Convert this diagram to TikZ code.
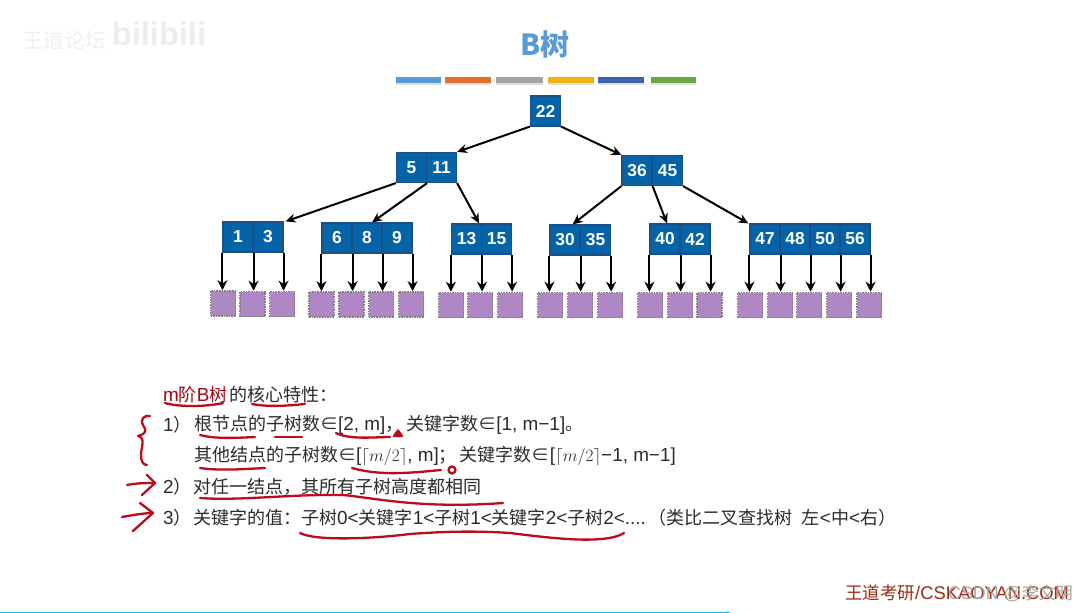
\documentclass[tikz,border=0pt]{standalone}
\usepackage{fontspec}
\setmainfont{Noto Sans CJK SC}
\newfontfamily\latinf[Scale=1.05]{Liberation Sans}
\newcommand{\lt}[1]{{\latinf #1}}
\usetikzlibrary{arrows.meta}
\definecolor{cellblue}{HTML}{0563A8}
\definecolor{celledge}{HTML}{1C4F86}
\definecolor{leafpurple}{HTML}{AE87C4}
\definecolor{inkred}{HTML}{BE0A1C}
\definecolor{bodytext}{HTML}{2B2B2B}
\definecolor{titleblue}{HTML}{5B9BD5}
\definecolor{footred}{HTML}{9E2A10}
\definecolor{bottomline}{HTML}{14B4EE}
\tikzset{
  x=1pt,y=-1pt,
  cellbox/.style={draw=celledge,line width=1.2pt,fill=cellblue,text=white,minimum width=30pt,minimum height=30pt,inner sep=0pt,font=\latinf\bfseries\fontsize{16.5}{17}\selectfont},
  leafbox/.style={draw=gray,densely dotted,line width=1.6pt,fill=leafpurple,minimum width=25pt,minimum height=25pt,inner sep=0pt},
  treeline/.style={-{Stealth[length=10pt,width=9pt]},line width=2pt,black},
  dropline/.style={-{Stealth[length=10pt,width=10pt]},line width=2pt,black},
  body/.style={anchor=west,inner sep=0pt,text=bodytext,font=\fontsize{18}{18}\selectfont},
  ink/.style={draw=inkred,line width=2.3pt,line cap=round,line join=round},
}
\newcommand{\celll}[4]{\node[cellbox] (#1) at (#2,#3) {#4};}
\newcommand{\leafb}[3]{\node[leafbox] (#1) at (#2,#3) {};}
\begin{document}
\begin{tikzpicture}
\useasboundingbox (0,0) rectangle (1090,613);
\fill[white] (0,0) rectangle (1090,613);
% watermark
\node[inner sep=0pt,text=black!6,font=\fontsize{21}{21}\selectfont] (wm) at (65,40) {王道论坛};
\node[inner sep=0pt,text=black!7,font=\latinf\bfseries\fontsize{31}{32}\selectfont] (wmb) at (159,34) {bilibili};
% title
\node[inner sep=0pt,text=titleblue,font=\bfseries\fontsize{29}{29}\selectfont] (title) at (545,44) {B树};
\foreach \a/\b/\c in {396/441/5B9BD5,445/491/E0702C,496/543/A5A5A5,548/594/F0B510,598/644/3F62AE,651/696/6AA745}{
  \definecolor{barc}{HTML}{\c}
  \fill[black!12] (\a,79) rectangle (\b,84.5);
  \fill[barc] (\a,77) rectangle (\b,82.5);
}
% internal nodes
\celll{r}{545.5}{111}{22}
\celll{a1}{411.5}{167.5}{5}\celll{a2}{441.5}{167.5}{11}
\celll{c1}{637}{170.5}{36}\celll{c2}{667.5}{170.5}{45}
\celll{d1}{238}{237}{1}\celll{d2}{268}{237}{3}
\celll{e1}{337}{238}{6}\celll{e2}{367}{238}{8}\celll{e3}{397}{238}{9}
\celll{f1}{466.5}{239}{13}\celll{f2}{496.5}{239}{15}
\celll{g1}{565}{240}{30}\celll{g2}{595.5}{240}{35}
\celll{h1}{665}{239}{40}\celll{h2}{695}{239}{42}
\celll{i1}{765}{239}{47}\celll{i2}{795}{239}{48}\celll{i3}{825}{239}{50}\celll{i4}{855}{239}{56}
% leaves
\leafb{ld1}{223}{303.5}\leafb{ld2}{252.5}{304}\leafb{ld3}{282}{304}
\leafb{le1}{321.5}{304.5}\leafb{le2}{351.5}{304.5}\leafb{le3}{381}{304.5}\leafb{le4}{411}{304.5}
\leafb{lf1}{451}{305}\leafb{lf2}{480}{305}\leafb{lf3}{510}{305}
\leafb{lg1}{550}{305}\leafb{lg2}{580}{305}\leafb{lg3}{610}{305}
\leafb{lh1}{650}{305}\leafb{lh2}{680}{305}\leafb{lh3}{709.5}{305}
\leafb{li1}{750}{305}\leafb{li2}{780}{305}\leafb{li3}{809}{305}\leafb{li4}{839}{305}\leafb{li5}{869}{305}
% edges between internal nodes
\draw[treeline] (r.south west) -- (a2.north east);
\draw[treeline] (r.south east) -- (c1.north west);
\draw[treeline] (a1.south west) -- ([xshift=2pt]d2.north east);
\draw[treeline] (a1.south east) -- ([xshift=5pt]e2.north);
\draw[treeline] (a2.south east) -- ([xshift=-3pt]f1.north east);
\draw[treeline] (c1.south west) -- ([xshift=-8pt]g1.north east);
\draw[treeline] (c1.south east) -- ([xshift=2pt]h1.north);
\draw[treeline] (c2.south east) -- ([xshift=-1pt]i1.north west);
% drops
\foreach \p/\l in {d1.south west/ld1,d1.south east/ld2,d2.south east/ld3,
  e1.south west/le1,e1.south east/le2,e2.south east/le3,e3.south east/le4,
  f1.south west/lf1,f1.south east/lf2,f2.south east/lf3,
  g1.south west/lg1,g1.south east/lg2,g2.south east/lg3,
  h1.south west/lh1,h1.south east/lh2,h2.south east/lh3,
  i1.south west/li1,i1.south east/li2,i2.south east/li3,i3.south east/li4,i4.south east/li5}{
  \draw[dropline] (\p) -- (\p |- \l.north);
}
% text
\node[body,text=inkred!85!black] (t0a) at (163,395) {\lt{m}阶\lt{B}树};
\node[body] (t0b) at (229,395) {的核心特性：};
\node[body] (n1) at (163,424.5) {\lt{1}）};
\node[body] (t1) at (194,424.5) {根节点的子树数∈\lt{[2, m]}，\kern3pt 关键字数∈\lt{[1, m−1]}。};
\node[body] (t2) at (194,456) {其他结点的子树数∈\lt{[}$\lceil m/2\rceil$\lt{, m]}；\kern3pt 关键字数∈\lt{[}$\lceil m/2\rceil$\lt{−1, m−1]}};
\node[body] (n2) at (163,487) {\lt{2}）};
\node[body] (t3) at (193,487) {对任一结点，其所有子树高度都相同};
\node[body] (n3) at (163,518) {\lt{3}）};
\node[body] (t4) at (193,518) {关键字的值：子树\lt{0<}关键字\lt{1<}子树\lt{1<}关键字\lt{2<}子树\lt{2<....}\kern3pt（类比二叉查找树\kern5pt\ 左\lt{<}中\lt{<}右）};
% red ink
\draw[ink] (165,403) .. controls (178,407) and (205,407) .. (223,403);
\draw[ink] (252,404) .. controls (268,407) and (285,406) .. (305,404);
\draw[ink] (200,435) .. controls (215,439) and (235,438) .. (255,437);
\draw[ink] (275,437) -- (302,437);
\draw[ink] (336,433) .. controls (350,440) and (375,437) .. (390,437);
\draw[ink,fill=inkred] (394,436) -- (398,430.5) -- (402,436) -- cycle;
\draw[ink] (200,468) .. controls (220,471) and (245,469) .. (265,468);
\draw[ink] (352,468) .. controls (380,476) and (410,473) .. (441,470);
\draw[ink] (452,470) circle[radius=3.5pt];
\draw[ink] (150,416) .. controls (144,415) and (140,419) .. (143,425) .. controls (145,429) and (149,433) .. (138,436) .. controls (146,438) and (141,447) .. (141,455) .. controls (141,461) and (143,465) .. (147,465);
\draw[ink] (127,485) .. controls (137,483) and (146,483) .. (155,483);
\draw[ink] (147,475) -- (155,483) -- (142,495);
\draw[ink] (122,517) .. controls (133,515) and (145,513) .. (153,513);
\draw[ink] (140,503) -- (153,513) -- (133,531);
\draw[ink] (200,498) .. controls (240,501) and (290,494) .. (343,495) .. controls (375,498) and (420,509) .. (503,503);
\draw[ink] (300,533) .. controls (315,541) and (370,539) .. (410,534) .. controls (450,531) and (480,531) .. (510,533) .. controls (550,538) and (605,545) .. (624,533);
% footer
\node[inner sep=0pt,anchor=west,text=footred,font=\fontsize{17.5}{17.5}\selectfont] (foot) at (845,593) {王道考研\lt{/CSKAOYAN.COM}};
\node[inner sep=0pt,anchor=east,text=black!35,font=\fontsize{17}{17}\selectfont] (wm2) at (1073,594) {\lt{CSDN @}李文明};
\fill[bottomline] (0,611.5) rectangle (730,613);
\end{tikzpicture}
\end{document}
